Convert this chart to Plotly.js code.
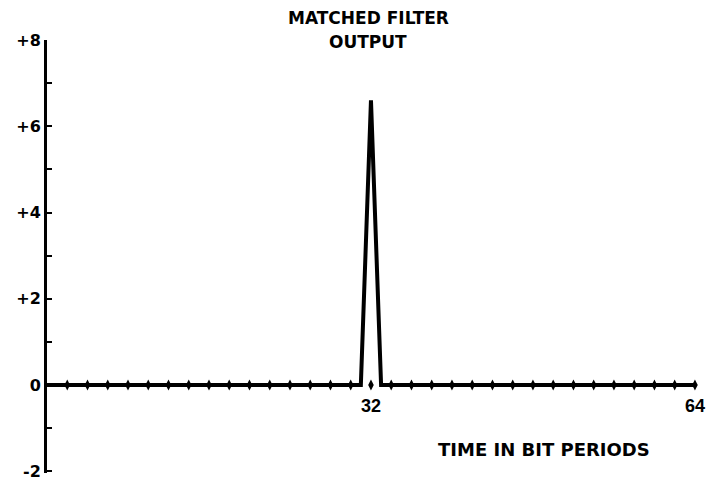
<!DOCTYPE html>
<html>
<head>
<meta charset="utf-8">
<script src="https://cdn.plot.ly/plotly-3.0.1.min.js"></script>
<style>html,body{margin:0;padding:0;background:#fff;}#chart{width:707px;height:481px;}</style>
</head>
<body>
<div id="chart"></div>
<script>
// Matched filter output vs time in bit periods
var timeBits = [0, 31, 32, 33, 64];
var filterOutput = [0, 0, 6.6, 0, 0];
// tick marks drawn along the baseline every 2 bit periods
var baselineTicks = [2,4,6,8,10,12,14,16,18,20,22,24,26,28,30,32,34,36,38,40,42,44,46,48,50,52,54,56,58,60,62,64];
var baselineZeros = [0,0,0,0,0,0,0,0,0,0,0,0,0,0,0,0,0,0,0,0,0,0,0,0,0,0,0,0,0,0,0,0];
var yTickVals = [-2,-1,0,1,2,3,4,5,6,7,8];
var yTickText = ['-2','','0','','+2','','+4','','+6','','+8'];
var xTickVals = [32, 64];
var xTickText = ['32', '64'];

var dv = 'DejaVu Sans, Verdana, sans-serif';
var lib = 'Liberation Sans, Arial, sans-serif';

var yMin = -2.04, yMax = 8;
var plotTop = 40, plotBottom = 473;
function py(pixel) { return (plotBottom - pixel) / (plotBottom - plotTop); }

var traces = [
  {x: timeBits, y: filterOutput, type: 'scatter', mode: 'lines',
   line: {color: '#000', width: 4}, hoverinfo: 'skip', cliponaxis: false},
  {x: baselineTicks, y: baselineZeros, type: 'scatter', mode: 'markers',
   marker: {symbol: 'diamond-tall', size: 8, color: '#000'}, hoverinfo: 'skip', cliponaxis: false}
];

var layout = {
  width: 707, height: 481,
  margin: {l: 47, r: 7, t: plotTop, b: 481 - plotBottom},
  paper_bgcolor: '#fff', plot_bgcolor: '#fff',
  showlegend: false,
  xaxis: {range: [0, 64.5], anchor: 'free', position: (0 - yMin) / (yMax - yMin), showgrid: false, zeroline: false,
          showline: false,
          tickvals: xTickVals, ticktext: xTickText, ticks: 'outside', ticklen: 4, tickcolor: 'rgba(0,0,0,0)',
          tickfont: {family: lib, size: 18, color: '#000', weight: 'bold'}, fixedrange: true},
  yaxis: {range: [yMin, yMax], domain: [0, 1], anchor: 'x', showgrid: false, zeroline: false,
          showline: true, linecolor: '#000', linewidth: 3,
          tickvals: yTickVals, ticktext: yTickText, ticks: 'inside', ticklen: 5, tickwidth: 2, tickcolor: '#000',
          tickfont: {family: dv, size: 16, color: '#000', weight: 'bold'}, fixedrange: true},
  annotations: [
    {text: 'MATCHED FILTER', xref: 'paper', yref: 'paper', x: (368-47)/653, y: py(18),
     xanchor: 'center', yanchor: 'middle', showarrow: false,
     font: {family: dv, size: 17, color: '#000', weight: 'bold'}},
    {text: 'OUTPUT', xref: 'paper', yref: 'paper', x: (368-47)/653, y: py(42.5),
     xanchor: 'center', yanchor: 'middle', showarrow: false,
     font: {family: dv, size: 17, color: '#000', weight: 'bold'}},
    {text: 'TIME IN BIT PERIODS', xref: 'paper', yref: 'paper', x: (543.5-47)/653, y: py(449.5),
     xanchor: 'center', yanchor: 'middle', showarrow: false,
     font: {family: dv, size: 18, color: '#000', weight: 'bold'}}
  ]
};

Plotly.newPlot('chart', traces, layout, {displayModeBar: false, staticPlot: true});
</script>
</body>
</html>
